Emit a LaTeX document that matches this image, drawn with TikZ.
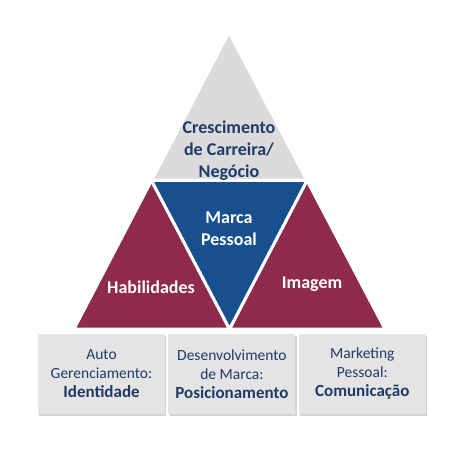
\documentclass[tikz,border=0pt]{standalone}
\usepackage{fontspec}
\setmainfont{Carlito}
\usepackage{xcolor}
\usetikzlibrary{positioning,shadows,calc}
\definecolor{topgray}{HTML}{DBDBDB}
\definecolor{crimson}{HTML}{8F2A4F}
\definecolor{brandblue}{HTML}{18508F}
\definecolor{navy}{HTML}{1F3A68}
\definecolor{boxgray}{HTML}{E4E4E4}
\tikzset{
  tri/.style={draw=white,line width=3pt,line join=miter},
  trilabel/.style={align=center,font=\fontsize{18}{22}\selectfont\bfseries,inner sep=0pt},
  pillar/.style={fill=boxgray,draw=none,minimum width=127pt,minimum height=80pt,
                 inner sep=0pt,align=center,text=navy,
                 font=\fontsize{15.5}{19}\selectfont,
                 drop shadow={shadow xshift=1.2pt,shadow yshift=-1.5pt,opacity=0.35}}
}
\begin{document}
\begin{tikzpicture}[x=1pt,y=-1pt]
  \useasboundingbox (0,0) rectangle (455,454);
  % triangle corners
  \coordinate (apex) at (229,32);
  \coordinate (bl) at (74,329);
  \coordinate (br) at (385,329);
  \coordinate (ml) at (151.5,180.5);
  \coordinate (mr) at (307,180.5);
  \coordinate (mb) at (229.5,329);
  % pyramid
  \filldraw[tri,fill=topgray] (apex) -- (ml) -- (mr) -- cycle;
  \filldraw[tri,fill=crimson] (ml) -- (bl) -- (mb) -- cycle;
  \filldraw[tri,fill=crimson] (mr) -- (mb) -- (br) -- cycle;
  \filldraw[tri,fill=brandblue] (ml) -- (mr) -- (mb) -- cycle;
  \node[trilabel,text=navy] (growth) at (229,151) {Crescimento\\de Carreira/\\Negócio};
  \node[trilabel,text=white] (brand) at (229,229) {Marca\\Pessoal};
  \node[trilabel,text=white] (skills) at (151,287) {Habilidades};
  \node[trilabel,text=white] (image) at (312,284) {Imagem};
  % pillars
  \node[pillar] (self) at (101.5,374) {Auto\\Gerenciamento:\\{\fontsize{17}{19}\selectfont\bfseries Identidade}};
  \node[pillar,right=3pt of self] (position) {Desenvolvimento\\de Marca:\\{\fontsize{17}{19}\selectfont\bfseries Posicionamento}};
  \node[pillar,right=3pt of position] (comm) {Marketing\\Pessoal:\\{\fontsize{17}{19}\selectfont\bfseries Comunicação}};
\end{tikzpicture}
\end{document}
